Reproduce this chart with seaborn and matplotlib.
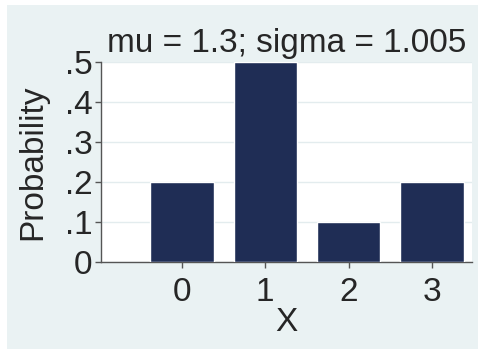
import matplotlib
matplotlib.use("Agg")
import matplotlib.pyplot as plt
import seaborn as sns
import pandas as pd
from matplotlib.patches import Rectangle

# Data
x_values = [0, 1, 2, 3]
probabilities = [0.2, 0.5, 0.1, 0.2]
y_ticks = [0, 0.1, 0.2, 0.3, 0.4, 0.5]
y_tick_labels = ["0", ".1", ".2", ".3", ".4", ".5"]
title_text = "mu = 1.3; sigma = 1.005"

df = pd.DataFrame({"X": x_values, "Probability": probabilities})

sns.set_style("white")
plt.rcParams["font.family"] = ["Liberation Sans", "DejaVu Sans"]

W, H = 478, 349
fig = plt.figure(figsize=(W / 100, H / 100), dpi=100, facecolor="white")

# Stata-like light background panel with a thin white margin top-left
bg = Rectangle((7 / W, 0), 1, 1 - 5 / H, transform=fig.transFigure,
               facecolor="#EAF2F3", edgecolor="none", zorder=-10)
fig.add_artist(bg)

ax = fig.add_axes([101 / W, (H - 262) / H, (472 - 101) / W, 200 / H])
ax.set_zorder(5)
ax.set_facecolor("white")

sns.barplot(data=df, x="X", y="Probability", color="#1F2D55", saturation=1,
            width=0.76, ax=ax, zorder=3)

ax.set_xlim(-0.97, 3.48)
ax.set_ylim(0, 0.5)
ax.set_yticks(y_ticks)
ax.set_yticklabels(y_tick_labels)

ax.yaxis.grid(True, color="#E3ECEE", linewidth=1, zorder=0)
ax.set_axisbelow(True)

for side in ["top", "right"]:
    ax.spines[side].set_visible(False)
for side in ["left", "bottom"]:
    ax.spines[side].set_color("#555555")
    ax.spines[side].set_linewidth(1)

fs = 24
ax.tick_params(axis="both", direction="out", length=4, width=1, color="#555555",
               labelsize=fs, bottom=True, left=True)
ax.tick_params(axis="x", pad=7)
ax.tick_params(axis="y", pad=2)

ax.set_xlabel("X", fontsize=fs, labelpad=-1)
ax.set_ylabel("Probability", fontsize=fs, labelpad=12)
ax.set_title(title_text, fontsize=fs, pad=7)

fig.savefig("out.png", dpi=100, facecolor="white")
